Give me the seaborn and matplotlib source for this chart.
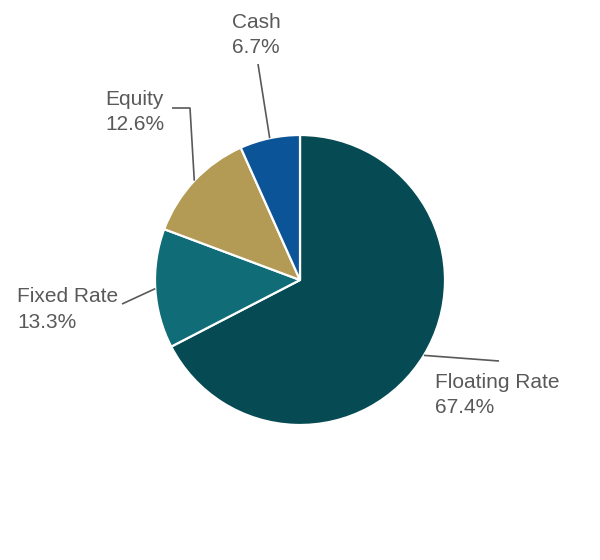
import numpy as np
import matplotlib
matplotlib.use("Agg")
import matplotlib.pyplot as plt
import seaborn as sns

categories = ["Floating Rate", "Fixed Rate", "Equity", "Cash"]
values = [67.4, 13.3, 12.6, 6.7]
pct_labels = ["67.4%", "13.3%", "12.6%", "6.7%"]
colors = ["#064B53", "#106D77", "#B39A55", "#0B5497"]

sns.set_theme(style="white")
plt.rcParams['font.family'] = ['Liberation Sans', 'DejaVu Sans']

W, H = 600, 560
fig = plt.figure(figsize=(6, 5.6), dpi=100)
ax = fig.add_axes([0, 0, 1, 1])
ax.set_xlim(0, W)
ax.set_ylim(0, H)
ax.axis("off")

def Y(y):
    return H - y

cx, cy, r = 300, 280, 145
wedges, _ = ax.pie(values, colors=colors, startangle=90, counterclock=False,
                   center=(cx, Y(cy)), radius=r, frame=True,
                   wedgeprops=dict(edgecolor="white", linewidth=1.6))
ax.set_xlim(0, W)
ax.set_ylim(0, H)
ax.axis("off")

gray = "#595959"
fs = 15
# label layout: (text x, name baseline y, pct baseline y), leader path after edge point
layout = {
    "Floating Rate": (435, 388, 413, [(499, 361)]),
    "Fixed Rate": (17, 302, 328, [(122, 304)]),
    "Equity": (105, 105, 130, [(190, 108), (172, 108)]),
    "Cash": (232, 28, 53, [(258, 64)]),
}

for w, name, pct in zip(wedges, categories, pct_labels):
    ang = np.deg2rad((w.theta1 + w.theta2) / 2)
    ex = cx + r * np.cos(ang)
    ey = Y(cy) + r * np.sin(ang)
    tx, yn, yp, path = layout[name]
    xs = [ex] + [p[0] for p in path]
    ys = [ey] + [Y(p[1]) for p in path]
    ax.plot(xs, ys, color=gray, lw=1.2, solid_capstyle="butt")
    ax.text(tx, Y(yn), name, ha="left", va="baseline", fontsize=fs, color=gray)
    ax.text(tx, Y(yp), pct, ha="left", va="baseline", fontsize=fs, color=gray)

fig.savefig("out.png", dpi=100, facecolor="white")
